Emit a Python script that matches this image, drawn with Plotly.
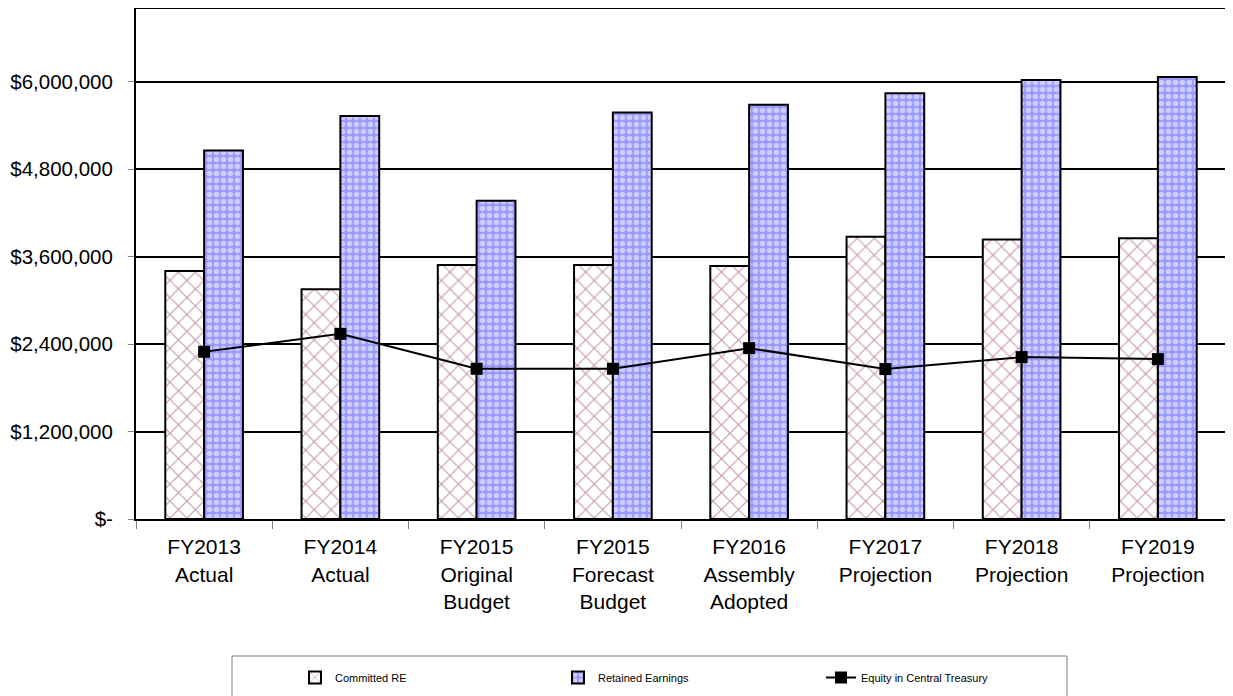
import plotly.graph_objects as go

categories = ["FY2013<br>Actual", "FY2014<br>Actual", "FY2015<br>Original<br>Budget",
              "FY2015<br>Forecast<br>Budget", "FY2016<br>Assembly<br>Adopted",
              "FY2017<br>Projection", "FY2018<br>Projection", "FY2019<br>Projection"]
committed_re = [3404000, 3153000, 3486000, 3486000, 3472000, 3873000, 3837000, 3855000]
retained_earnings = [5057000, 5532000, 4368000, 5578000, 5686000, 5845000, 6027000, 6068000]
equity_treasury = [2295000, 2541000, 2062000, 2062000, 2345000, 2058000, 2222000, 2195000]
y_tickvals = [0, 1200000, 2400000, 3600000, 4800000, 6000000]
y_ticktext = ["$-", "$1,200,000", "$2,400,000", "$3,600,000", "$4,800,000", "$6,000,000"]

FONT = "Liberation Sans, Arial, sans-serif"
OFF = 8  # page body margin
W, H = 1233 - OFF, 696 - OFF
L, T = 136 - OFF, 1
R = W - (1226 - OFF)
B = H - (519 - OFF)
pw, ph = W - L - R, H - T - B

def px_x(x):
    return (x - OFF - L) / pw

def px_y(y):
    return (H - B - (y - OFF)) / ph

fig = go.Figure()
fig.add_trace(go.Bar(
    x=categories, y=committed_re, name="Committed RE",
    marker=dict(color="white", line=dict(color="black", width=2),
                pattern=dict(shape="x", fgcolor="#8B2252", bgcolor="white", size=12, solidity=0.16)),
))
fig.add_trace(go.Bar(
    x=categories, y=retained_earnings, name="Retained Earnings",
    marker=dict(color="#9999FF", line=dict(color="black", width=2),
                pattern=dict(shape=".", fgcolor="white", bgcolor="#9999FF", size=7, solidity=0.5)),
))
fig.add_trace(go.Scatter(
    x=categories, y=equity_treasury, name="Equity in Central Treasury", mode="lines+markers",
    line=dict(color="black", width=2),
    marker=dict(symbol="square", size=12, color="black"),
))

fig.update_layout(
    width=W, height=H,
    margin=dict(l=L, r=R, t=T, b=B, autoexpand=False),
    paper_bgcolor="white", plot_bgcolor="white",
    font=dict(family=FONT, size=21, color="black"),
    barmode="group", bargap=0.43, bargroupgap=0,
    showlegend=True,
    legend=dict(orientation="h", x=px_x(295), xanchor="left", y=px_y(663), yanchor="top",
                font=dict(size=11, family=FONT), bgcolor="rgba(0,0,0,0)",
                entrywidth=218, entrywidthmode="pixels", traceorder="normal"),
    shapes=[dict(type="rect", xref="paper", yref="paper",
                 x0=px_x(232), x1=px_x(1067), y0=px_y(656), y1=px_y(730),
                 line=dict(color="#808080", width=1), fillcolor="rgba(0,0,0,0)", layer="below")],
)
fig.update_xaxes(
    showline=True, linecolor="black", linewidth=2, mirror=True,
    ticks="outside", tickson="boundaries", ticklen=8, tickcolor="#808080", tickwidth=1,
    showgrid=False, tickfont=dict(size=21), ticklabelstandoff=8,
)
fig.update_yaxes(
    range=[0, 7000000], tickvals=y_tickvals, ticktext=y_ticktext,
    showline=True, linecolor="black", linewidth=2, mirror=True,
    ticks="outside", ticklen=6, tickcolor="#808080", tickwidth=1,
    showgrid=True, gridcolor="black", gridwidth=2, zeroline=False,
    tickfont=dict(size=20.5), ticklabelstandoff=11,
)
fig.write_html("out.html")
